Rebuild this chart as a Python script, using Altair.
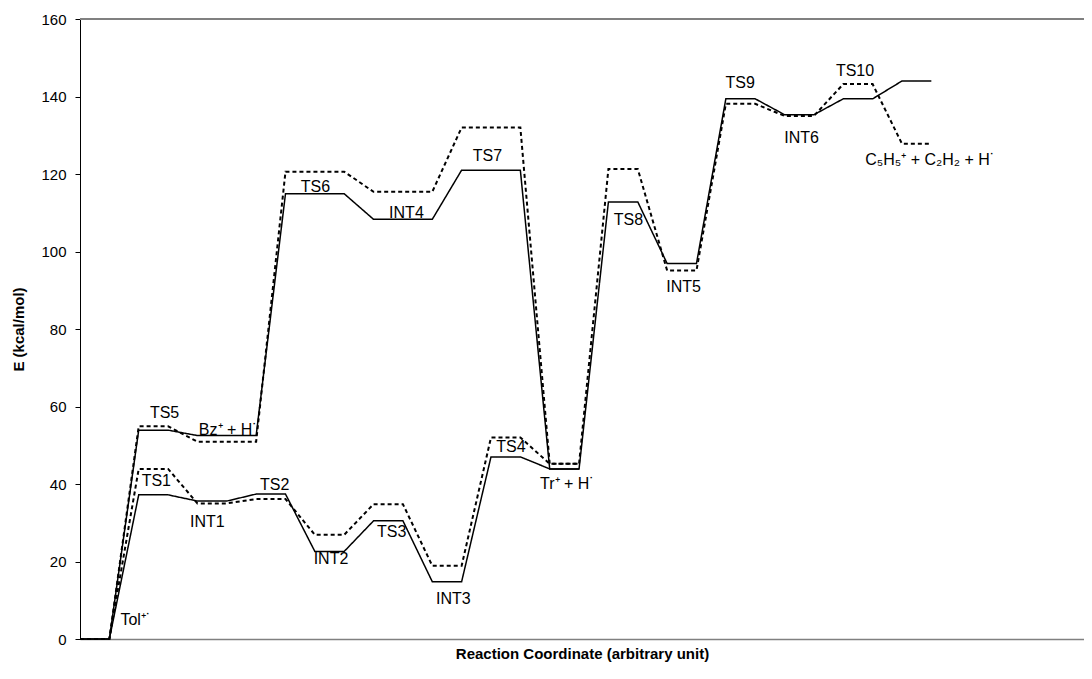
import altair as alt
import pandas as pd

# ---- data: energy levels (kcal/mol) ----
# lower pathway via TS1..TS4
path_a_states = ["Tol", "TS1", "INT1", "TS2", "INT2", "TS3", "INT3", "TS4", "Tr"]
path_a_start = [0, 2, 4, 6, 8, 10, 12, 14, 16]
path_a_end = [1, 3, 5, 7, 9, 11, 13, 15, 17]
path_a_solid = [0, 37.2, 35.6, 37.4, 22.6, 30.5, 14.8, 47.0, 43.9]
path_a_dashed = [0, 43.9, 35.0, 36.1, 26.9, 34.8, 18.9, 52.0, 45.2]

# upper pathway via TS5, Bz+ + H, TS6, INT4, TS7
path_b_states = ["Tol", "TS5", "Bz", "TS6", "INT4", "TS7", "Tr"]
path_b_start = [0, 2, 4, 7, 10, 13, 16]
path_b_end = [1, 3, 6, 9, 12, 15, 17]
path_b_solid = [0, 53.9, 52.5, 114.9, 108.3, 121.0, 43.9]
path_b_dashed = [0, 54.9, 50.9, 120.6, 115.4, 132.0, 45.2]

# common part after Tr+ + H
tail_states = ["Tr", "TS8", "INT5", "TS9", "INT6", "TS10", "End"]
tail_start = [16, 18, 20, 22, 24, 26, 28]
tail_end = [17, 19, 21, 23, 25, 27, 29]
tail_solid = [43.9, 112.8, 96.9, 139.4, 135.3, 139.4, 144.0]
tail_dashed = [45.2, 121.3, 95.1, 138.1, 135.0, 143.2, 127.8]

# state labels
label_text = ["Tol⁺˙", "TS1", "INT1", "TS2", "INT2", "TS3", "INT3", "TS4",
              "Tr⁺ + H˙", "TS5", "Bz⁺ + H˙", "TS6", "INT4", "TS7", "TS8",
              "INT5", "TS9", "INT6", "TS10", "C₅H₅⁺ + C₂H₂ + H˙"]
label_x = [1.9, 2.6, 4.34, 6.63, 8.55, 10.62, 12.72, 14.68,
           16.6, 2.88, 5.05, 8.02, 11.12, 13.88, 18.68,
           20.56, 22.49, 24.58, 26.4, 28.96]
label_y = [4.9, 40.9, 30.1, 39.7, 20.6, 27.5, 10.3, 49.5,
           39.9, 58.4, 53.9, 116.7, 110.0, 124.6, 108.1,
           90.9, 143.4, 129.4, 146.6, 123.6]

y_ticks = [0, 20, 40, 60, 80, 100, 120, 140, 160]

# ---- build the step-like profile table ----
rows = []
def add(series, method, starts, ends, values):
    seq = 0
    for s, e, v in zip(starts, ends, values):
        rows.append({"series": series, "method": method, "x": s, "E": v, "seq": seq})
        seq += 1
        rows.append({"series": series, "method": method, "x": e, "E": v, "seq": seq})
        seq += 1

add("A_solid", "solid", path_a_start + tail_start[1:], path_a_end + tail_end[1:],
    path_a_solid + tail_solid[1:])
add("A_dashed", "dashed", path_a_start + tail_start[1:], path_a_end + tail_end[1:],
    path_a_dashed + tail_dashed[1:])
add("B_solid", "solid", path_b_start, path_b_end, path_b_solid)
add("B_dashed", "dashed", path_b_start, path_b_end, path_b_dashed)
profile = pd.DataFrame(rows)

labels = pd.DataFrame({"text": label_text, "x": label_x, "E": label_y})

FONT = "Liberation Sans"
x_scale = alt.Scale(domain=[0, 34.2], nice=False, zero=False)
y_scale = alt.Scale(domain=[0, 160], nice=False)

lines = alt.Chart(profile).mark_line(color="black").encode(
    x=alt.X("x:Q", scale=x_scale,
            axis=alt.Axis(title="Reaction Coordinate (arbitrary unit)", labels=False,
                          ticks=False, grid=False, domainColor="#808080",
                          domainWidth=1.5, titleFont=FONT, titleFontSize=15,
                          titleFontWeight="bold", titleColor="black", titlePadding=7)),
    y=alt.Y("E:Q", scale=y_scale,
            axis=alt.Axis(title="E (kcal/mol)", values=y_ticks, grid=False,
                          domainColor="black", tickColor="black", tickSize=5,
                          labelFont=FONT, labelFontSize=15, labelColor="black",
                          labelPadding=9, titleFont=FONT, titleFontSize=15,
                          titleFontWeight="bold", titleColor="black", titlePadding=14)),
    detail="series:N",
    order="seq:Q",
    strokeDash=alt.StrokeDash("method:N", scale=alt.Scale(domain=["solid", "dashed"],
                                                           range=[[1, 0], [4, 3]]),
                              legend=None),
    strokeWidth=alt.StrokeWidth("method:N", scale=alt.Scale(domain=["solid", "dashed"],
                                                             range=[1.5, 2]),
                                legend=None),
)

top_border = alt.Chart(labels).mark_rule(color="#808080", strokeWidth=1.5).encode(
    y=alt.datum(160, scale=y_scale)
)

texts = alt.Chart(labels).mark_text(font=FONT, fontSize=16, color="black",
                                    align="center", baseline="middle").encode(
    x=alt.X("x:Q", scale=x_scale),
    y=alt.Y("E:Q", scale=y_scale),
    text="text:N",
)

chart = alt.layer(top_border, lines, texts).properties(
    width=1004, height=620,
    autosize=alt.AutoSizeParams(type="none"),
    padding={"left": 72, "top": 11, "right": 0, "bottom": 28},
    background="white",
).configure_view(stroke=None)

chart.save("out.html", embed_options={"renderer": "svg", "actions": False})
